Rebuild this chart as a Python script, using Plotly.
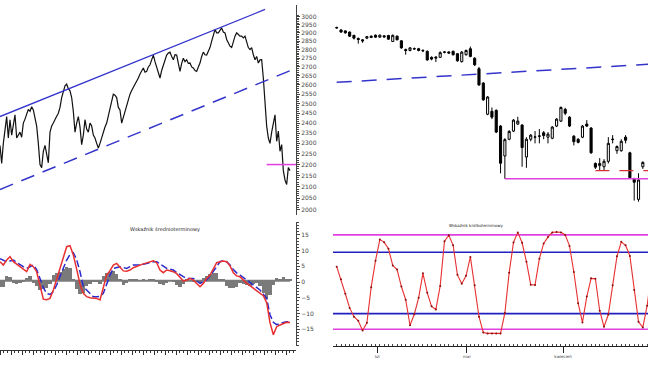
import plotly.graph_objects as go

W, H = 648, 365

# ---------------- left: long-term price line with channel ----------------
left_price = [
    2290, 2205, 2300, 2385, 2433, 2326, 2417, 2340, 2400, 2442,
    2326, 2340, 2355, 2330, 2400, 2420, 2450, 2470, 2460, 2484,
    2467, 2430, 2385, 2300, 2200, 2186, 2262, 2290, 2246, 2208,
    2355, 2385, 2400, 2420, 2435, 2450, 2480, 2532, 2560, 2595,
    2604, 2580, 2568, 2532, 2460, 2355, 2400, 2433, 2380, 2294,
    2340, 2417, 2370, 2355, 2400, 2385, 2340, 2326, 2300, 2278,
    2300, 2330, 2355, 2380, 2400, 2440, 2484, 2520, 2550, 2545,
    2532, 2480, 2467, 2400, 2430, 2467, 2500, 2530, 2550, 2570,
    2586, 2600, 2620, 2638, 2660, 2680, 2694, 2670, 2675, 2700,
    2712, 2740, 2768, 2730, 2703, 2670, 2638, 2680, 2712, 2740,
    2768, 2780, 2785, 2760, 2741, 2770, 2768, 2720, 2675, 2720,
    2750, 2730, 2741, 2720, 2722, 2700, 2694, 2680, 2675, 2700,
    2722, 2760, 2785, 2770, 2768, 2790, 2812, 2850, 2880, 2920,
    2900, 2900, 2915, 2930, 2905, 2900, 2860, 2840, 2820, 2812,
    2850, 2880, 2900, 2890, 2880, 2880, 2870, 2880, 2840, 2812,
    2800, 2812, 2770, 2741, 2760, 2722, 2740, 2741, 2638, 2500,
    2385, 2326, 2300, 2355, 2400, 2442, 2310, 2360, 2262, 2294,
    2172, 2130, 2110, 2186, 2172,
]
upper_channel_idx = [0, 159]
upper_channel_val = [2433, 3046]
lower_channel_idx = [0, 178]
lower_channel_val = [2088, 2694]
left_support_idx = [160, 178]
left_support_val = [2200, 2200]

price_ticks = list(range(2000, 3001, 50))

# ---------------- left bottom: medium-term indicator ----------------
macd_line = [
    19, 15.7, 20.7, 24, 19, 16.5, 14, 10.7, 9, 16.3,
    14, 9, -4.3, -18.5, -19, -17.7, -9.3, 2, 13, 24,
    34, 35, 25.7, 11.5, -3.5, -12.7, -16, -17, -17.7, -17.7,
    -19.3, -7.7, 5.7, 10, 15.7, 17.3, 13, 9.8, 9.5, 10.7,
    13, 14.5, 15.7, 16.8, 17.8, 19, 20, 18, 10.7, 8,
    10.7, 10, 9, 7, 3, -0.2, 0.5, 2.3, 0.5, -2.7,
    -6, -2.7, 2.3, 5.7, 12, 18, 19, 19.8, 19, 14.8,
    8, 4.8, 4, 0.6, -2.7, -5, -7.6, -10.4, -12.7, -15,
    -22, -42, -54, -46, -44.3, -43, -41.5, -41.7,
]
macd_signal = [
    22, 20.5, 19, 19.8, 20.7, 18.2, 15.7, 14, 12.3, 14,
    15.7, 11.2, 2.4, -7, -12.7, -13.8, -10.9, -4.3, 4.4, 13,
    20.7, 26.2, 28, 21, 9, -6, -9.3, -12.7, -16, -16,
    -15.6, -12.7, -2.7, 5.6, 12.3, 13.2, 14, 13.2, 12.3, 14,
    15.7, 15.7, 15.7, 16.5, 17.3, 18.1, 19, 19, 17, 14.6,
    12.3, 11.5, 10.7, 8.2, 5.7, 4, 2.3, 2.3, 2.3, -0.2,
    -2.7, -1, 0.7, 4.8, 9, 14, 19, 20.1, 19, 15.7,
    11.2, 7.8, 5.7, 3.2, 0.7, -1.8, -4.3, -6.8, -9.3, -13.5,
    -17.7, -34, -41.6, -44, -42.7, -41.8, -41, -41,
]
macd_hist = [
    -6, -6, 5, 4, -2, -3, -2, -1, 3, 5,
    -2, -5, -9, -8, -7, -3, 6, 8, 9, 12,
    14, 13, 2, -8, -13, -12, -5, -3, -1, -1,
    -3, 5, 8, 9, 10, 7, 2, -4, -2, 2,
    2, 1, 0.5, 1, 0.5, 1, 2, -0.5, -3, -4,
    -2, 0.5, -1, -4, -6, -3, 1, 0.5, -1, -1,
    -2, 3, 5, 7, 8, 8, 2, 1, -5, -7,
    -7, -6, -2, -3, -4, -5, -3, -2, -5, -12,
    -18, -14, -4, 3, 1, 4, 1, 1,
]

# ---------------- right: daily candles ----------------
c_open = [2930, 2918, 2912, 2905, 2885, 2866, 2858, 2868, 2872, 2886,
          2874, 2882, 2884, 2848, 2880, 2852, 2800, 2795, 2806, 2805,
          2796, 2790, 2755, 2750, 2755, 2784, 2786, 2790, 2776, 2730,
          2770, 2805, 2750, 2690, 2610, 2445, 2460, 2465, 2385, 2240,
          2320, 2360, 2395, 2390, 2235, 2320, 2330, 2336, 2352, 2330,
          2325, 2385, 2410, 2470, 2430, 2335, 2320, 2330, 2395, 2375,
          2205, 2195, 2190, 2215, 2318, 2265, 2265, 2330, 2255, 2135,
          2045, 2190]
c_high = [2938, 2922, 2915, 2908, 2888, 2872, 2862, 2880, 2884, 2890,
          2890, 2886, 2888, 2890, 2884, 2856, 2806, 2815, 2812, 2810,
          2800, 2795, 2760, 2760, 2790, 2790, 2790, 2794, 2780, 2792,
          2800, 2818, 2755, 2700, 2615, 2540, 2480, 2470, 2390, 2325,
          2365, 2420, 2432, 2395, 2330, 2345, 2360, 2370, 2360, 2355,
          2385, 2425, 2485, 2478, 2435, 2340, 2325, 2390, 2415, 2380,
          2210, 2230, 2225, 2330, 2340, 2290, 2320, 2340, 2260, 2140,
          2160, 2215]
c_low = [2925, 2900, 2895, 2875, 2860, 2835, 2840, 2862, 2868, 2870,
         2870, 2870, 2858, 2845, 2855, 2805, 2770, 2790, 2798, 2790,
         2785, 2735, 2738, 2728, 2752, 2778, 2775, 2765, 2730, 2725,
         2765, 2755, 2705, 2595, 2515, 2440, 2420, 2350, 2160, 2135,
         2315, 2355, 2390, 2190, 2185, 2310, 2300, 2300, 2320, 2300,
         2320, 2380, 2405, 2440, 2380, 2290, 2300, 2325, 2380, 2250,
         2180, 2175, 2175, 2205, 2300, 2250, 2260, 2300, 2135, 2040,
         2035, 2180]
c_close = [2932, 2905, 2900, 2880, 2868, 2860, 2852, 2877, 2880, 2874,
           2886, 2876, 2862, 2885, 2858, 2810, 2795, 2810, 2804, 2795,
           2793, 2740, 2745, 2756, 2782, 2786, 2780, 2770, 2735, 2785,
           2795, 2760, 2712, 2600, 2520, 2535, 2430, 2355, 2206, 2318,
           2358, 2415, 2410, 2280, 2320, 2340, 2331, 2335, 2338, 2345,
           2380, 2420, 2480, 2450, 2385, 2308, 2305, 2385, 2385, 2255,
           2188, 2205, 2215, 2300, 2320, 2285, 2310, 2315, 2140, 2120,
           2130, 2210]
right_trend_idx = [0, 73]
right_trend_val = [2614, 2716]
right_support_idx = [39, 73]
right_support_val = [2135, 2135]
right_red_idx = [60, 73]
right_red_val = [2172, 2172]

# ---------------- right bottom: short-term oscillator ----------------
osc = [4.9, 0.9, -3.7, -8.2, -11, -12.3, -15.4, -12.9, -1.6, 6.8,
       13.5, 12.7, 10.6, 5.3, 4, -1.4, -5.6, -13.7, -10.2, -5,
       2.8, -3.4, -7.7, -8.7, -1.2, 13, 14.9, 11.7, 2.3, -0.5,
       2, 8, -1, -11, -16, -16.3, -16.3, -16.3, -16.3, -9.8,
       3, 12.6, 15.8, 12.5, 6.5, -0.8, -0.9, 7.4, 12.3, 14.3,
       15.8, 15.9, 15.8, 15, 11.5, 3.2, -6.7, -12.8, -4.6, 1.2,
       1.1, -9.1, -14.2, -10.3, -1, 8.2, 12.8, 11.7, 8.3, -2.5,
       -12.6, -14.4, -7.5, 3.2]
osc_outer = 15
osc_inner_top = 9.5
osc_inner_bottom = -10
osc_ticks = [-15, -10, -5, 0, 5, 10, 15]

# ---------------- figure ----------------
BLUE = "#3434cc"
MAG = "#e040e0"
RED = "#e83030"

fig = go.Figure()

# left price
fig.add_trace(go.Scatter(x=list(range(len(left_price))), y=left_price, mode="lines",
                         line=dict(color="#111111", width=1.2), xaxis="x", yaxis="y"))
fig.add_trace(go.Scatter(x=upper_channel_idx, y=upper_channel_val, mode="lines",
                         line=dict(color=BLUE, width=1.3), xaxis="x", yaxis="y"))
fig.add_trace(go.Scatter(x=lower_channel_idx, y=lower_channel_val, mode="lines",
                         line=dict(color=BLUE, width=1.5, dash="14px,9px"), xaxis="x", yaxis="y"))
fig.add_trace(go.Scatter(x=left_support_idx, y=left_support_val, mode="lines",
                         line=dict(color=MAG, width=1.5), xaxis="x", yaxis="y"))

# left indicator
n_m = len(macd_line)
fig.add_trace(go.Bar(x=list(range(n_m)), y=macd_hist, width=1,
                     marker=dict(color="#7a7a7a", line=dict(width=0)), xaxis="x3", yaxis="y3"))
fig.add_trace(go.Scatter(x=[0, n_m - 1], y=[0, 0], mode="lines",
                         line=dict(color="#7a7a7a", width=2), xaxis="x3", yaxis="y3"))
fig.add_trace(go.Scatter(x=list(range(n_m)), y=macd_signal, mode="lines",
                         line=dict(color="#2a2acc", width=1.5, dash="7px,3px"), xaxis="x3", yaxis="y3"))
fig.add_trace(go.Scatter(x=list(range(n_m)), y=macd_line, mode="lines",
                         line=dict(color=RED, width=1.5), xaxis="x3", yaxis="y3"))

# right candles
fig.add_trace(go.Scatter(x=right_trend_idx, y=right_trend_val, mode="lines",
                         line=dict(color=BLUE, width=1.5, dash="15px,10px"), xaxis="x2", yaxis="y2"))
fig.add_trace(go.Scatter(x=right_support_idx, y=right_support_val, mode="lines",
                         line=dict(color=MAG, width=1.5), xaxis="x2", yaxis="y2"))
fig.add_trace(go.Scatter(x=right_red_idx, y=right_red_val, mode="lines",
                         line=dict(color="#d83030", width=1.2, dash="14px,10px"), xaxis="x2", yaxis="y2"))
fig.add_trace(go.Candlestick(x=list(range(len(c_open))), open=c_open, high=c_high,
                             low=c_low, close=c_close, xaxis="x2", yaxis="y2",
                             whiskerwidth=0,
                             increasing=dict(line=dict(color="#000000", width=1), fillcolor="#ffffff"),
                             decreasing=dict(line=dict(color="#000000", width=1), fillcolor="#000000")))

# right oscillator
n_o = len(osc)
for lvl, col in [(osc_outer, MAG), (-osc_outer, MAG), (osc_inner_top, "#2020c0"), (osc_inner_bottom, "#2020c0")]:
    fig.add_trace(go.Scatter(x=[-1, n_o], y=[lvl, lvl], mode="lines",
                             line=dict(color=col, width=1.6), xaxis="x4", yaxis="y4"))
fig.add_trace(go.Scatter(x=list(range(n_o)), y=osc, mode="lines+markers",
                         line=dict(color=RED, width=1.1),
                         marker=dict(color="#8a1010", size=2), xaxis="x4", yaxis="y4"))

left_dom = [0, 296 / W]
right_dom = [333 / W, 1]
price_dom = [1 - 215 / H, 1 - 5 / H]
prange = [3.29647, 3.48778]
xr = [-0.86, 72.2]

fig.update_layout(
    width=W, height=H, margin=dict(l=0, r=0, t=0, b=0),
    paper_bgcolor="white", plot_bgcolor="white", showlegend=False,
    font=dict(family="DejaVu Sans", size=6, color="#333333"),
    bargap=0,
    xaxis=dict(domain=left_dom, range=[0, 177.6], visible=False, anchor="y"),
    yaxis=dict(domain=price_dom, type="log", range=prange, anchor="x", side="right",
               showgrid=False, zeroline=False, showline=True, linecolor="#444", linewidth=1,
               ticks="outside", ticklen=3, tickcolor="#444",
               tickvals=price_ticks, ticktext=[str(v) for v in price_ticks],
               tickfont=dict(size=6, color="#444"),
               minor=dict(tickvals=list(range(2000, 3011, 10)), ticks="outside", ticklen=2, tickcolor="#444")),
    xaxis2=dict(domain=right_dom, range=xr, visible=False, anchor="y2",
                rangeslider=dict(visible=False)),
    yaxis2=dict(domain=price_dom, type="log", range=prange, anchor="x2", visible=False),
    xaxis3=dict(domain=left_dom, range=[0, 88.8], anchor="y3", showgrid=False, zeroline=False,
                showline=True, linecolor="#333", linewidth=1, ticks="outside", ticklen=4,
                tickcolor="#333", tick0=0, dtick=3.3, showticklabels=False,
                minor=dict(ticks="outside", ticklen=2, dtick=1.1, tickcolor="#333")),
    yaxis3=dict(domain=[1 - 350 / H, 1 - 232 / H], range=[-69.3, 48.7], anchor="x3", visible=False),
    xaxis4=dict(domain=right_dom, range=xr, anchor="y4", showgrid=False, zeroline=False,
                showline=True, linecolor="#222", linewidth=1.2, ticks="outside", ticklen=6,
                tickcolor="#222", tickvals=[9.4, 30.2, 52.5], ticktext=["lut", "mar", "kwiecień"],
                tickfont=dict(size=4, color="#444"),
                minor=dict(ticks="inside", ticklen=2, dtick=1, tickcolor="#444")),
    yaxis4=dict(domain=[1 - 346 / H, 1 - 222 / H], range=[-20.3, 19.1], anchor="free",
                position=296 / W, side="right", showgrid=False, zeroline=False,
                showline=True, linecolor="#444", linewidth=1, ticks="outside", ticklen=3,
                tickcolor="#444", tickvals=osc_ticks, tickfont=dict(size=6, color="#444"),
                minor=dict(ticks="outside", ticklen=2, dtick=1, tickcolor="#444")),
    annotations=[
        dict(text="Wskaźnik średnioterminowy", x=128 / W, y=1 - 229 / H, xref="paper", yref="paper",
             showarrow=False, font=dict(size=5, color="#222")),
        dict(text="Wskaźnik krótkoterminowy", x=505 / W, y=1 - 225 / H, xref="paper", yref="paper",
             showarrow=False, font=dict(size=4, color="#222")),
    ],
)

fig.write_html("out.html")
